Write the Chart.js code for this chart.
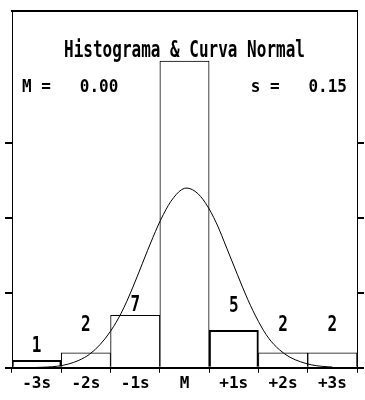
<!DOCTYPE html>
<html>
<head>
<meta charset="utf-8">
<script src="https://cdn.jsdelivr.net/npm/chart.js@4/dist/chart.umd.min.js"></script>
<style>
  html, body { margin: 0; padding: 0; background: #fff; }
  #wrap { width: 365px; height: 400px; }
</style>
</head>
<body>
<div id="wrap"><canvas id="histo" width="365" height="400"></canvas></div>
<script>
// ===== data =====
const binLabels = ['-3s', '-2s', '-1s', 'M', '+1s', '+2s', '+3s'];
const binCounts = [1, 2, 7, 41, 5, 2, 2];
const countText = ['1', '2', '7', '', '5', '2', '2'];   // middle count not printed

// normal curve, x in sigma units, y in counts
const curveZ = [-3.5, -3.25, -3, -2.75, -2.5, -2.25, -2, -1.75, -1.5, -1.25, -1, -0.75, -0.5, -0.25,
  0, 0.25, 0.5, 0.75, 1, 1.25, 1.5, 1.75, 2, 2.25, 2.5, 2.75, 3, 3.25, 3.5];
const curveY = [0.05, 0.1, 0.22, 0.5, 1.0, 1.8, 3.1, 4.9, 7.3, 10.4, 13.9, 17.4, 20.5, 22.8,
  24.0, 23.6, 22.0, 19.4, 16.0, 12.5, 9.1, 6.2, 3.9, 2.4, 1.4, 0.8, 0.4, 0.2, 0.1];

const yTicks = [0, 10, 20, 30];
const yMax = 47.7;

const titleText = 'Histograma & Curva Normal';
const meanText = 'M =   0.00';
const sdText = 's =   0.15';

// ===== look =====
const FONT = "'DejaVu Sans Mono', monospace";
const labelLift = [8, 22, 4, 0, 18, 22, 22];   // gap between bar top and its count

// draw text stretched vertically (the original uses a tall pixel font)
function tallText(ctx, txt, x, y, sy, align) {
  ctx.save();
  ctx.textAlign = align;
  ctx.textBaseline = 'alphabetic';
  ctx.translate(x, y);
  ctx.scale(1, sy);
  ctx.fillText(txt, 0, 0);
  ctx.restore();
}

const textPlugin = {
  id: 'histoText',
  afterDatasetsDraw(chart) {
    const { ctx, chartArea } = chart;
    ctx.fillStyle = '#000';
    ctx.font = 'bold 16px ' + FONT;
    tallText(ctx, titleText, (chartArea.left + chartArea.right) / 2, 57, 1.45, 'center');
    tallText(ctx, meanText, chartArea.left + 10, 92, 1.15, 'left');
    tallText(ctx, sdText, chartArea.right - 10, 92, 1.15, 'right');

    const bars = chart.getDatasetMeta(1).data;
    bars.forEach((b, i) => {
      if (!countText[i]) return;
      tallText(ctx, countText[i], b.x, b.y - labelLift[i], 1.28, 'center');
    });
  }
};

const sideAxis = (pos) => ({
  position: pos,
  min: 0,
  max: yMax,
  afterBuildTicks: (ax) => { ax.ticks = yTicks.map(v => ({ value: v })); },
  ticks: { display: false },
  grid: { drawOnChartArea: false, drawTicks: true, tickLength: 7, color: '#000', lineWidth: 2 },
  border: { display: true, color: '#000', width: 1 }
});

new Chart(document.getElementById('histo'), {
  type: 'bar',
  data: {
    labels: binLabels,
    datasets: [
      {
        type: 'line',
        data: curveZ.map((z, i) => ({ x: z, y: curveY[i] })),
        xAxisID: 'xc',
        yAxisID: 'y',
        borderColor: '#000',
        borderWidth: 1,
        pointRadius: 0,
        tension: 0.35,
        order: 0
      },
      {
        type: 'bar',
        data: binCounts,
        xAxisID: 'x',
        yAxisID: 'y',
        backgroundColor: '#fff',
        borderColor: '#000',
        borderWidth: [2, 1, 1, 1, 2, 1, 1],
        categoryPercentage: 1,
        barPercentage: 1,
        grouped: false,
        order: 1
      }
    ]
  },
  options: {
    responsive: false,
    animation: false,
    layout: { padding: { left: 5, right: 1, top: 11, bottom: 6 } },
    plugins: { legend: { display: false }, tooltip: { enabled: false }, title: { display: false } },
    scales: {
      x: {
        type: 'category',
        position: 'bottom',
        offset: true,
        grid: { offset: true, drawOnChartArea: false, tickLength: 5, color: '#000', lineWidth: 1 },
        border: { display: true, color: '#000', width: 2 },
        ticks: { color: '#000', padding: 1, font: { family: FONT, size: 16, weight: 'bold' } }
      },
      xc: { type: 'linear', display: false, min: -3.5, max: 3.5 },
      xt: {
        type: 'linear',
        position: 'top',
        min: 0, max: 1,
        ticks: { display: false },
        grid: { display: false, drawTicks: false },
        border: { display: true, color: '#000', width: 2 }
      },
      y: sideAxis('left'),
      y2: sideAxis('right')
    }
  },
  plugins: [textPlugin]
});
</script>
</body>
</html>
